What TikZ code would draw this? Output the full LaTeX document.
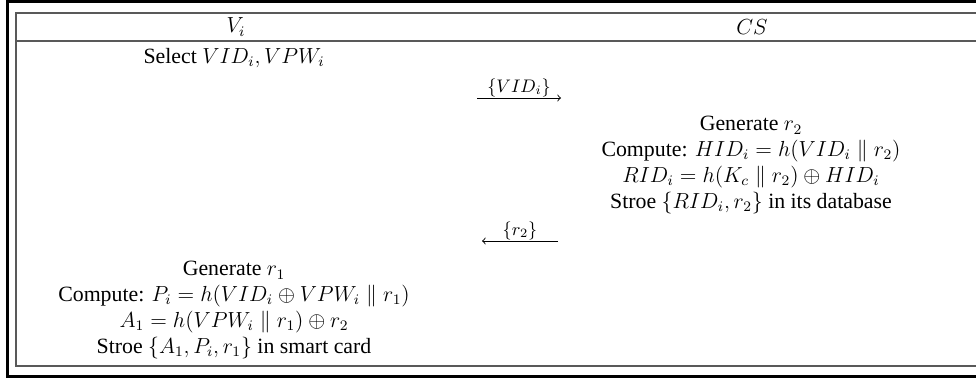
\documentclass[tikz,border=0pt]{standalone}
\usepackage{amsmath,amssymb}
\usepackage{fontspec}
\setmainfont{Liberation Serif}
\usetikzlibrary{arrows, positioning}

\begin{document}
\begin{tikzpicture}[x=0.55pt, y=-0.55pt, auto]
\tikzstyle{cell} = [inner sep=0pt, align=center, font=\fontsize{12}{14.2}\selectfont]
\tikzstyle{frame} = [draw, line width=1.7pt]
\tikzstyle{rule} = [draw, black!65, line width=0.9pt]
\tikzstyle{msg} = [draw, ->, line width=0.5pt]
\tikzstyle{lbl} = [above, inner sep=0.5pt, font=\fontsize{10}{11}\selectfont]

\useasboundingbox (0,0) rectangle (976,380);
% frame and table rules
\draw [frame] (976,1.5) -- (7.5,1.5) -- (7.5,376.5) -- (976,376.5);
\draw [rule] (976,13) -- (16,13) -- (16,366) -- (976,366);
\draw [rule] (16,41) -- (976,41);

\node [cell] (vi) at (236,27) {$V_i$};
\node [cell] (cs) at (752,27) {$CS$};

\node [cell] (select) at (234,58) {Select $VID_i, VPW_i$};
\node [cell] (csgen) at (751,165) {Generate $r_2$\\
  Compute: $HID_i = h(VID_i \parallel r_2)$\\
  $RID_i = h(K_c \parallel r_2) \oplus HID_i$\\
  Stroe $\{RID_i, r_2\}$ in its database};
\node [cell] (vgen) at (234,310) {Generate $r_1$\\
  Compute: $P_i = h(VID_i \oplus VPW_i \parallel r_1)$\\
  $A_1 = h(VPW_i \parallel r_1) \oplus r_2$\\
  Stroe $\{A_1, P_i, r_1\}$ in smart card};

% messages
\coordinate (vidfrom) at (477,98);
\coordinate (vidto) at (561,98);
\coordinate (rfrom) at (558,241);
\coordinate (rto) at (482,241);
\draw [msg] (vidfrom) -- node [lbl] {$\{VID_i\}$} (vidto);
\draw [msg] (rfrom) -- node [lbl, swap] {$\{r_2\}$} (rto);
\end{tikzpicture}
\end{document}
